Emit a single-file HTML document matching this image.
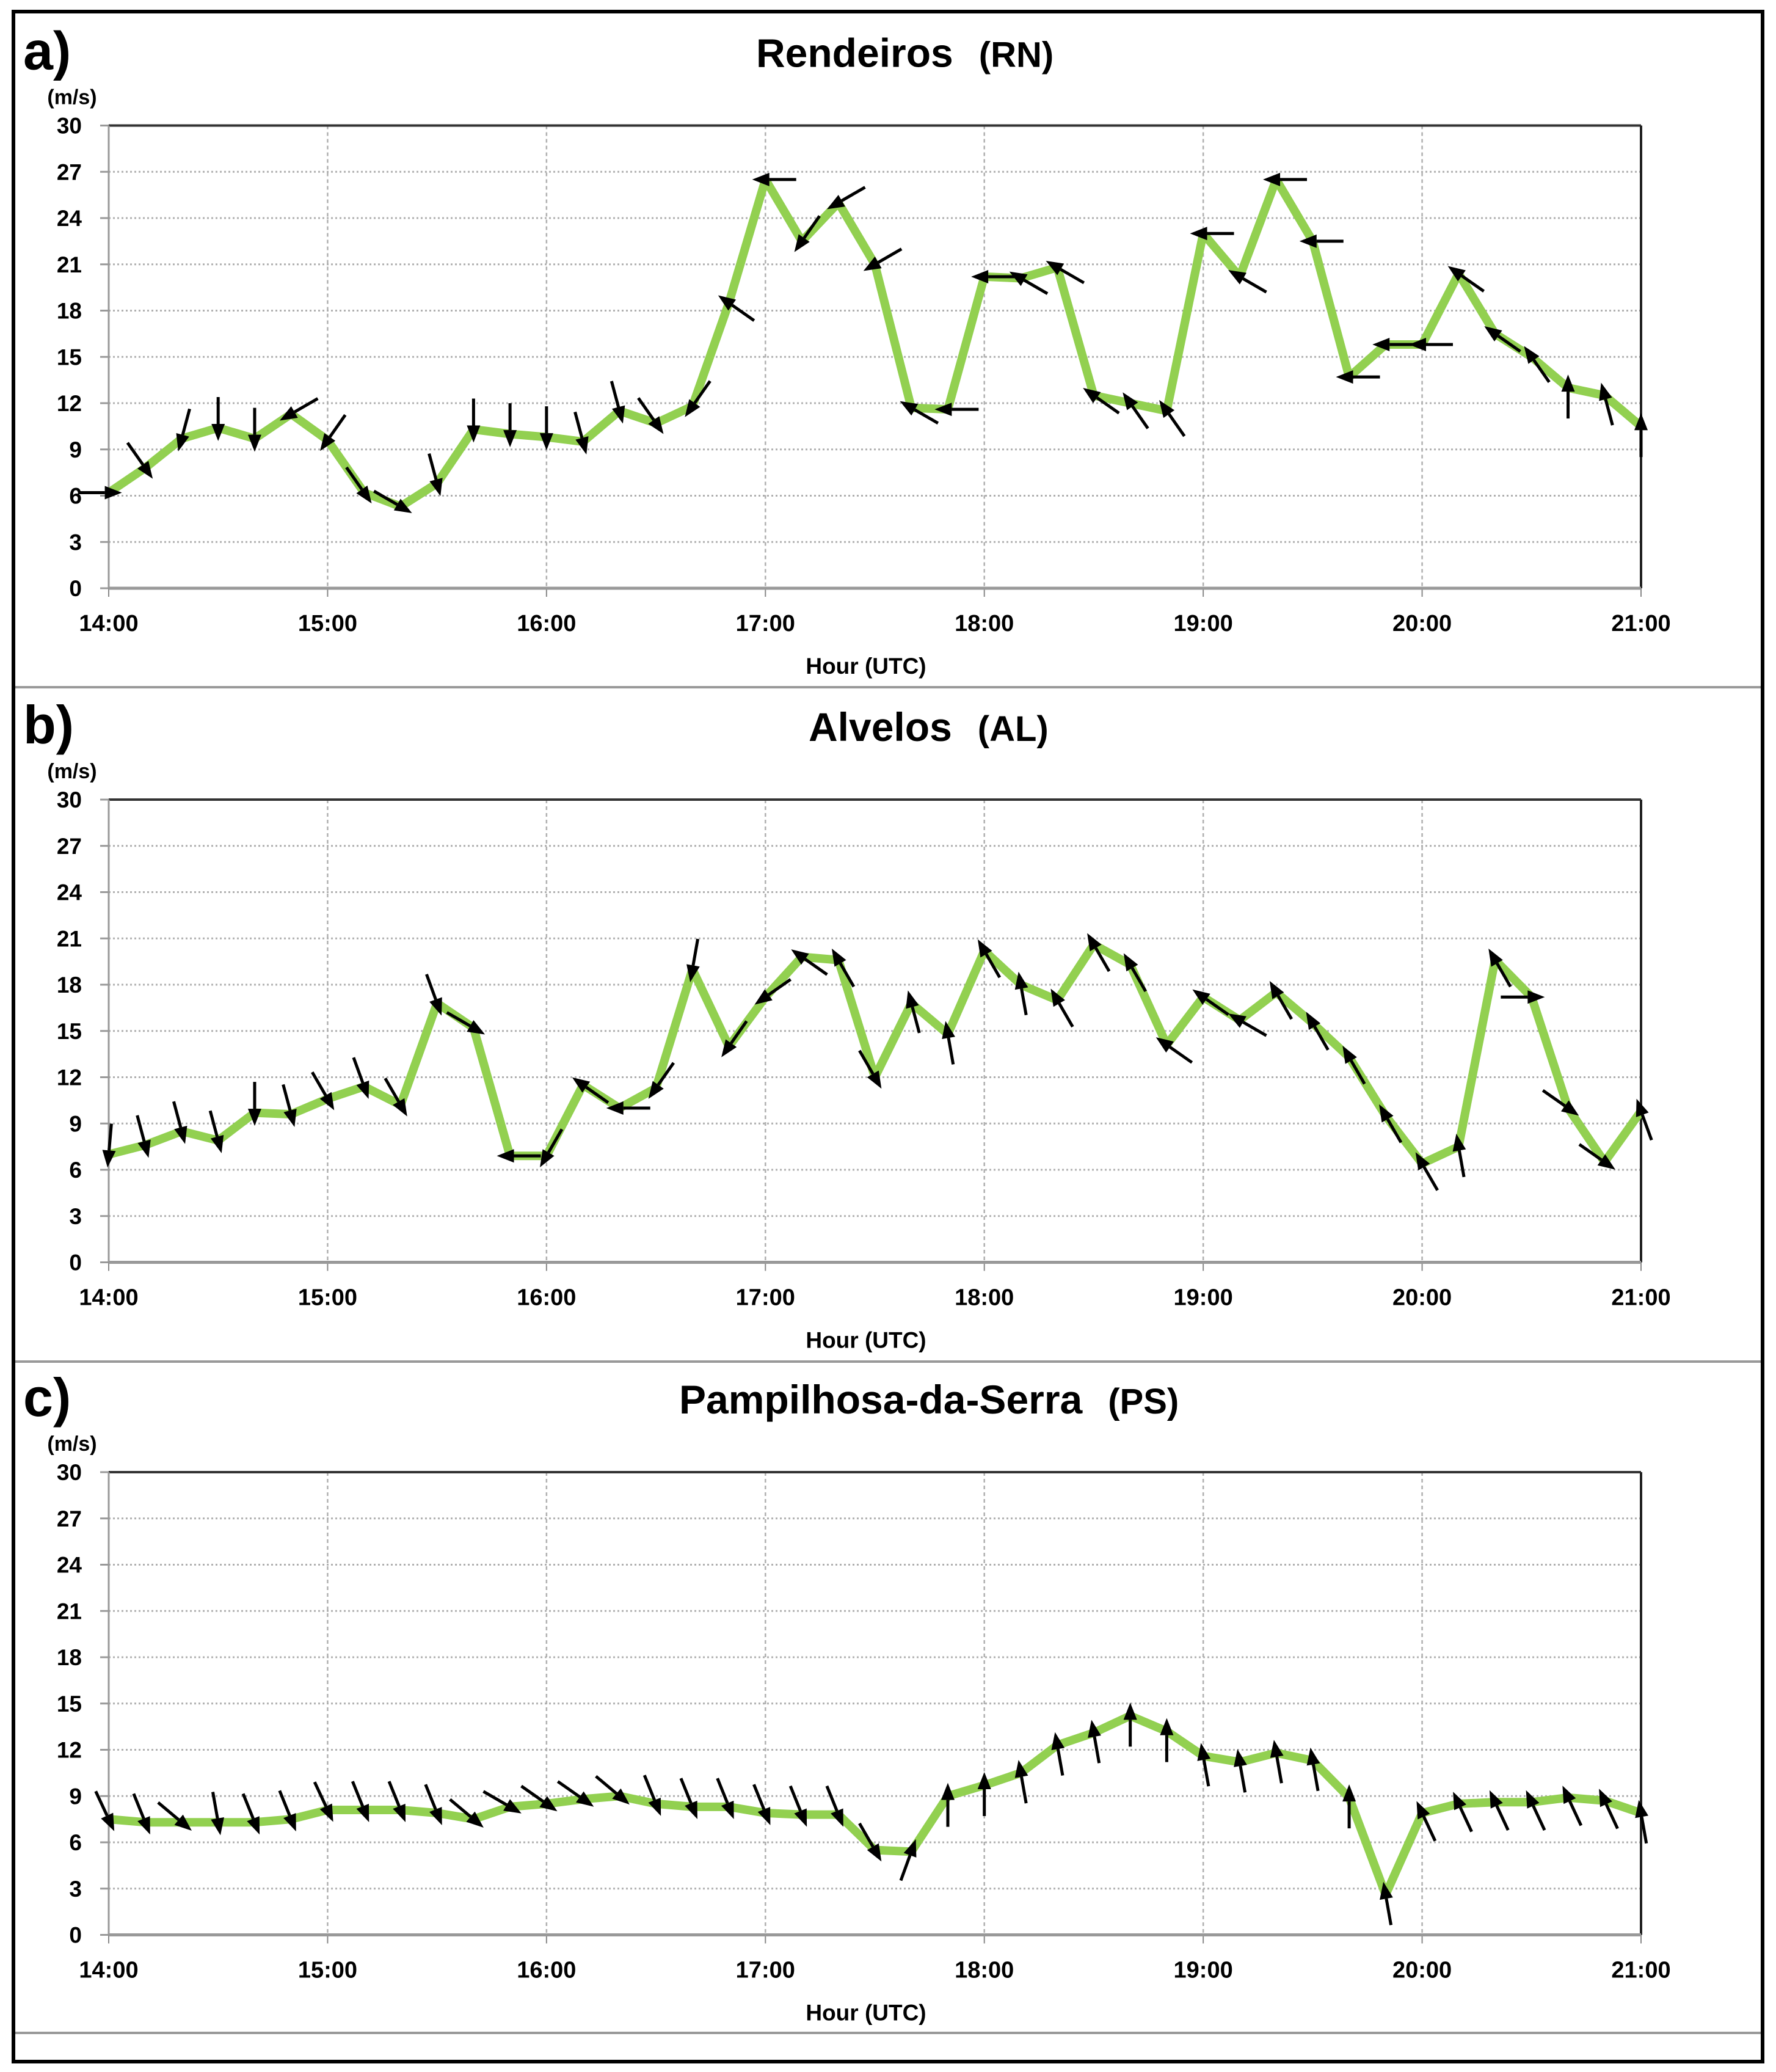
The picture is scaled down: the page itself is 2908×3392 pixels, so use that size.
<!DOCTYPE html>
<html><head><meta charset="utf-8">
<style>
html,body{margin:0;padding:0;background:#fff;}
svg{display:block;}
text{font-family:"Liberation Sans",sans-serif;}
</style></head>
<body>
<svg id="chart" xmlns="http://www.w3.org/2000/svg" width="2908" height="3392" viewBox="0 0 2908 3392">
<rect x="0" y="0" width="2908" height="3392" fill="#fff"/>
<rect x="22" y="19" width="2864" height="3356" fill="none" stroke="#000" stroke-width="6"/>
<line x1="25" y1="1125" x2="2883" y2="1125" stroke="#999" stroke-width="4"/>
<line x1="25" y1="2229" x2="2883" y2="2229" stroke="#999" stroke-width="4"/>
<line x1="25" y1="3328" x2="2883" y2="3328" stroke="#999" stroke-width="4"/>
<g id="panels"></g>
</svg>
<script>
var timeLabels = ["14:00","15:00","16:00","17:00","18:00","19:00","20:00","21:00"];
var yTicks = [0,3,6,9,12,15,18,21,24,27,30];
var speedA = [6.2,7.8,9.7,10.4,9.7,11.3,9.6,6.2,5.3,6.8,10.3,10.0,9.8,9.5,11.5,10.7,11.8,18.5,26.5,22.5,25.0,21.0,11.7,11.6,20.2,20.1,20.8,12.5,12.0,11.5,23.0,20.2,26.5,22.5,13.7,15.8,15.8,20.4,16.5,15.0,13.0,12.5,10.5];
var dirA = [0,55,105,90,90,150,125,55,30,75,90,90,90,75,75,55,125,215,180,125,150,150,210,180,180,210,210,215,235,235,180,210,180,180,180,180,180,215,215,235,270,255,270];
var speedB = [7.0,7.6,8.5,7.9,9.7,9.6,10.6,11.4,10.2,16.8,15.2,6.9,6.9,11.5,10.0,11.3,19.0,14.0,17.2,19.8,19.6,12.0,16.8,14.8,20.2,18.0,17.0,20.6,19.3,14.1,17.2,15.7,17.5,15.5,13.3,9.5,6.4,7.5,19.6,17.2,10.0,6.5,9.8];
var dirB = [95,75,75,75,90,75,60,70,60,70,30,180,120,215,180,125,100,125,145,215,240,60,255,260,240,260,240,240,240,215,215,210,240,240,240,240,240,260,240,0,35,35,250];
var speedC = [7.5,7.3,7.3,7.3,7.3,7.5,8.1,8.1,8.1,7.9,7.5,8.3,8.5,8.8,9.0,8.5,8.3,8.3,7.9,7.8,7.8,5.5,5.4,9.0,9.7,10.5,12.3,13.1,14.2,13.2,11.6,11.2,11.8,11.3,8.9,2.6,7.9,8.5,8.6,8.6,8.9,8.7,7.9];
var dirC = [65,68,40,80,68,68,65,68,68,68,40,30,35,35,40,68,68,68,68,68,68,60,290,270,270,260,260,260,270,270,260,260,260,260,270,260,245,245,245,245,245,245,260];
var titles = ["Rendeiros","Alvelos","Pampilhosa-da-Serra"];
var codes = ["(RN)","(AL)","(PS)"];
var letters = ["a)","b)","c)"];

var NS = "http://www.w3.org/2000/svg";
var root = document.getElementById("panels");
var X0 = 178, X1 = 2687, PH = 757.5;
var tops = [205.5, 1309, 2410];
var titleX = [1238, 1324, 1112];

function mk(tag, attrs, parent){
  var e = document.createElementNS(NS, tag);
  for (var k in attrs) e.setAttribute(k, attrs[k]);
  parent.appendChild(e);
  return e;
}
function xs(i){ return X0 + (X1 - X0) * i / 42; }

function drawPanel(p, speeds, dirs){
  var top = tops[p], bot = top + PH;
  function ys(v){ return bot - PH * v / 30; }
  var g = mk("g", {}, root);
  
  

  var lt = mk("text", {x: 38, y: top - 92, "font-size": 88, "font-weight": "bold"}, g);
  lt.textContent = letters[p];
  
  

  var tt = mk("text", {x: titleX[p], y: top - 96, "font-size": 66}, g);
  
  
  var t1 = mk("tspan", {"font-weight": "bold"}, tt); t1.textContent = titles[p];
  var t2 = mk("tspan", {"font-size": 58, "font-weight": "bold", dx: 42}, tt); t2.textContent = codes[p];

  var un = mk("text", {x: 118, y: top - 35, "text-anchor": "middle", "font-size": 34, "font-weight": "bold"}, g);
  un.textContent = "(m/s)";
  
  

  yTicks.forEach(function(v){
    var y = ys(v);
    if (v > 0 && v < 30) {
      var gl = mk("line", {x1: X0, y1: y, x2: X1, y2: y, stroke: "#b0b0b0", "stroke-width": 3, "stroke-dasharray": "3 4"}, g);
      
      
    }
    mk("line", {x1: X0 - 14, y1: y, x2: X0, y2: y, stroke: "#999", "stroke-width": 3}, g);
    var tl = mk("text", {x: 134, y: y + 13, "text-anchor": "end", "font-size": 37, "font-weight": "bold"}, g);
    tl.textContent = v;
    
    
  });
  timeLabels.forEach(function(lab, k){
    var x = xs(k * 6);
    if (k > 0 && k < 7) {
      var vl = mk("line", {x1: x, y1: top, x2: x, y2: bot, stroke: "#b0b0b0", "stroke-width": 2.5, "stroke-dasharray": "6 5"}, g);
      
      
    }
    mk("line", {x1: x, y1: bot, x2: x, y2: bot + 14, stroke: "#888", "stroke-width": 2}, g);
    var xl = mk("text", {x: x, y: bot + 70, "text-anchor": "middle", "font-size": 38, "font-weight": "bold"}, g);
    xl.textContent = lab;
    
    
  });
  mk("line", {x1: X0, y1: top, x2: X1, y2: top, stroke: "#333", "stroke-width": 4}, g);
  mk("line", {x1: X1, y1: top, x2: X1, y2: bot, stroke: "#222", "stroke-width": 4}, g);
  mk("line", {x1: X0, y1: top, x2: X0, y2: bot, stroke: "#999", "stroke-width": 3}, g);
  var ax = mk("line", {x1: X0, y1: bot, x2: X1, y2: bot, stroke: "#999", "stroke-width": 5}, g);
  
  

  var xt = mk("text", {x: 1418, y: bot + 140, "text-anchor": "middle", "font-size": 37, "font-weight": "bold"}, g);
  xt.textContent = "Hour (UTC)";
  
  

  var pts = speeds.map(function(v, i){ return xs(i).toFixed(1) + "," + ys(v).toFixed(1); }).join(" ");
  var line = mk("polyline", {points: pts, fill: "none", stroke: "#92d050", "stroke-width": 14, "stroke-linejoin": "round"}, g);
  
  

  var L = 72;
  speeds.forEach(function(v, i){
    var px = xs(i), py = ys(v);
    var a = dirs[i] * Math.PI / 180, ux = Math.cos(a), uy = Math.sin(a);
    var tx = px + 0.3 * L * ux, ty = py + 0.3 * L * uy;
    var sx = px - 0.7 * L * ux, sy = py - 0.7 * L * uy;
    var hx = tx - 28 * ux, hy = ty - 28 * uy;
    var ag = mk("g", {}, g);
    
    
    mk("line", {x1: sx, y1: sy, x2: hx, y2: hy, stroke: "#000", "stroke-width": 5}, ag);
    var nx = -uy, ny = ux;
    mk("polygon", {points: tx + "," + ty + " " + (hx + 11 * nx) + "," + (hy + 11 * ny) + " " + (hx - 11 * nx) + "," + (hy - 11 * ny), fill: "#000"}, ag);
  });
}
drawPanel(0, speedA, dirA);
drawPanel(1, speedB, dirB);
drawPanel(2, speedC, dirC);
</script>
</body></html>
